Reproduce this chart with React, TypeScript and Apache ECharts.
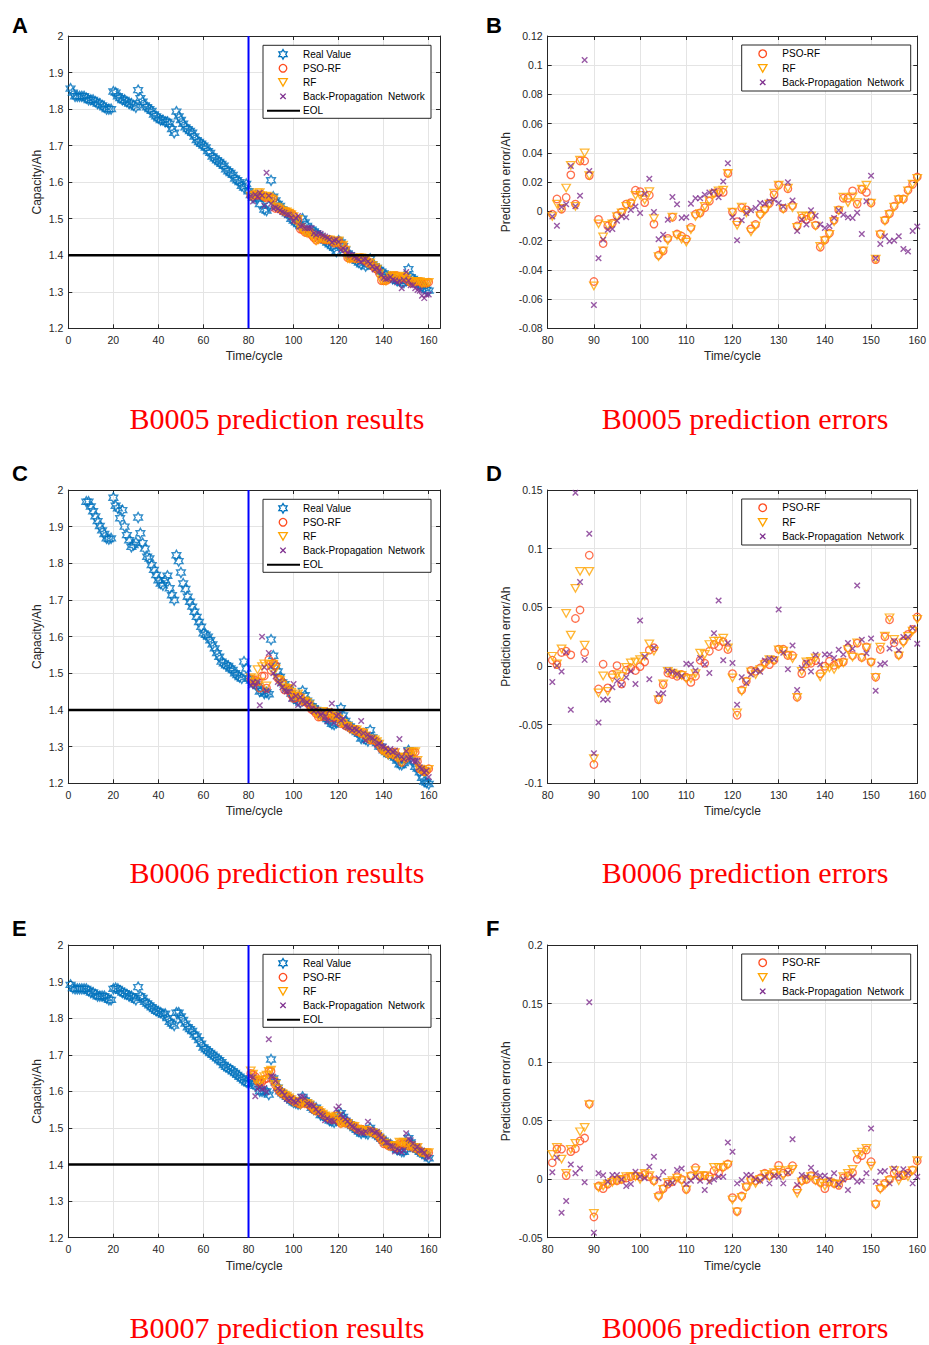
import React, { useEffect, useRef } from 'react';
import * as echarts from 'echarts';

// ---------------- DATA ----------------
// Measured capacity (Ah), cycles 1..160
const realB0005 = [
  1.856, 1.845, 1.835, 1.835, 1.835, 1.835, 1.835, 1.83, 1.825, 1.825,
  1.825, 1.82, 1.815, 1.815, 1.81, 1.805, 1.8, 1.8, 1.8, 1.848,
  1.845, 1.835, 1.83, 1.825, 1.825, 1.82, 1.815, 1.815, 1.81, 1.805,
  1.852, 1.83, 1.82, 1.81, 1.805, 1.8, 1.795, 1.785, 1.78, 1.775,
  1.77, 1.77, 1.765, 1.765, 1.76, 1.745, 1.735, 1.793, 1.78, 1.77,
  1.76, 1.75, 1.745, 1.74, 1.735, 1.725, 1.715, 1.71, 1.705, 1.7,
  1.695, 1.685, 1.68, 1.67, 1.665, 1.66, 1.655, 1.65, 1.645, 1.635,
  1.63, 1.625, 1.62, 1.61, 1.605, 1.6, 1.59, 1.585, 1.595, 1.575,
  1.565, 1.557, 1.563, 1.555, 1.54, 1.56, 1.525, 1.522, 1.535, 1.605,
  1.56, 1.55, 1.54, 1.535, 1.525, 1.52, 1.515, 1.51, 1.5, 1.495,
  1.49, 1.485, 1.48, 1.5, 1.49, 1.48, 1.465, 1.47, 1.465, 1.46,
  1.455, 1.45, 1.445, 1.44, 1.435, 1.43, 1.425, 1.42, 1.41, 1.44,
  1.435, 1.425, 1.415, 1.405, 1.4, 1.395, 1.39, 1.385, 1.38, 1.375,
  1.385, 1.37, 1.375, 1.39, 1.375, 1.37, 1.365, 1.36, 1.355, 1.35,
  1.345, 1.34, 1.34, 1.335, 1.335, 1.33, 1.33, 1.325, 1.325, 1.33,
  1.362, 1.34, 1.335, 1.33, 1.325, 1.32, 1.315, 1.31, 1.305, 1.303,
];

const realB0006 = [
  null, null, null, null, null, null, null, 1.968, 1.968, 1.955,
  1.942, 1.928, 1.915, 1.902, 1.89, 1.88, 1.868, 1.866, 1.868, 1.979,
  1.957, 1.95, 1.923, 1.945, 1.9, 1.877, 1.863, 1.845, 1.85, 1.857,
  1.925, 1.882, 1.855, 1.84, 1.818, 1.813, 1.795, 1.782, 1.768, 1.754,
  1.745, 1.74, 1.754, 1.766, 1.732, 1.713, 1.7, 1.822, 1.806, 1.775,
  1.745, 1.73, 1.709, 1.695, 1.682, 1.668, 1.654, 1.64, 1.627, 1.609,
  1.605, 1.6, 1.59, 1.579, 1.568, 1.555, 1.545, 1.532, 1.527, 1.522,
  1.52, 1.513, 1.509, 1.5, 1.495, 1.49, 1.486, 1.532, 1.513, 1.486,
  1.48, 1.475, 1.47, 1.465, 1.45, 1.452, 1.445, 1.448, 1.443, 1.592,
  1.548, 1.52, 1.505, 1.49, 1.475, 1.47, 1.46, 1.455, 1.445, 1.432,
  1.43, 1.425, 1.42, 1.452, 1.44, 1.425, 1.42, 1.41, 1.405, 1.4,
  1.395, 1.39, 1.385, 1.38, 1.375, 1.37, 1.362, 1.36, 1.365, 1.385,
  1.405, 1.385, 1.37, 1.36, 1.355, 1.35, 1.345, 1.34, 1.335, 1.322,
  1.325, 1.32, 1.315, 1.345, 1.325, 1.315, 1.31, 1.3, 1.3, 1.29,
  1.285, 1.28, 1.28, 1.275, 1.27, 1.262, 1.252, 1.25, 1.255, 1.265,
  1.29, 1.27, 1.26, 1.245, 1.24, 1.23, 1.215, 1.205, 1.202, 1.198,
];

const realB0007 = [
  1.891, 1.882, 1.88, 1.88, 1.88, 1.88, 1.88, 1.88, 1.875, 1.87,
  1.87, 1.865, 1.86, 1.86, 1.86, 1.86, 1.855, 1.85, 1.85, 1.88,
  1.882, 1.88, 1.875, 1.87, 1.868, 1.865, 1.86, 1.86, 1.855, 1.85,
  1.885, 1.86, 1.855, 1.845, 1.84, 1.835, 1.83, 1.825, 1.82, 1.818,
  1.815, 1.81, 1.812, 1.8, 1.79, 1.785, 1.78, 1.815, 1.815, 1.805,
  1.795, 1.785, 1.775, 1.77, 1.765, 1.755, 1.75, 1.74, 1.73, 1.72,
  1.715, 1.71, 1.705, 1.7, 1.695, 1.69, 1.685, 1.68, 1.672, 1.667,
  1.663, 1.66, 1.655, 1.65, 1.645, 1.64, 1.635, 1.63, 1.625, 1.622,
  1.635, 1.62, 1.615, 1.625, 1.6, 1.6, 1.6, 1.6, 1.591, 1.687,
  1.635, 1.625, 1.61, 1.6, 1.595, 1.59, 1.585, 1.58, 1.575, 1.57,
  1.568, 1.565, 1.566, 1.585, 1.575, 1.57, 1.565, 1.555, 1.55, 1.555,
  1.545, 1.535, 1.535, 1.53, 1.528, 1.52, 1.518, 1.515, 1.52, 1.535,
  1.54, 1.53, 1.52, 1.515, 1.51, 1.505, 1.5, 1.495, 1.49, 1.485,
  1.49, 1.485, 1.483, 1.5, 1.49, 1.485, 1.48, 1.475, 1.47, 1.465,
  1.46, 1.455, 1.455, 1.45, 1.445, 1.44, 1.44, 1.435, 1.435, 1.442,
  1.472, 1.46, 1.45, 1.445, 1.44, 1.435, 1.43, 1.428, 1.425, 1.417,
];

// Prediction errors (predicted - real, Ah), cycles 81..160
const psoErrB0005 = [
  -0.002, 0.0085, 0.0015, 0.0095, 0.025, 0.005, 0.0345, 0.0345, 0.0245, -0.048,
  -0.0055, -0.022, -0.01, -0.008, -0.003, -0.0005, 0.005, 0.006, 0.0145, 0.0135,
  0.006, 0.011, -0.0087, -0.03, -0.027, -0.0185, -0.004, -0.0155, -0.017, -0.019,
  -0.011, -0.002, -0.001, 0.0025, 0.007, 0.0125, 0.013, 0.013, 0.026, -0.0005,
  -0.007, 0.0025, 0.001, -0.012, -0.009, -0.002, 0.0015, 0.0055, 0.0115, 0.018,
  0.002, 0.0155, 0.004, -0.01, -0.0045, -0.0055, -0.0035, -0.0095, -0.0245, -0.0195,
  -0.015, -0.006, 0.001, 0.009, 0.009, 0.014, 0.005, 0.015, 0.013, 0.0057,
  -0.033, -0.0155, -0.006, -0.0015, 0.0035, 0.0085, 0.0085, 0.0145, 0.0185, 0.0235,
];
const rfErrB0005 = [
  -0.0035, 0.005, 0.002, 0.016, 0.0315, 0.0035, 0.035, 0.04, 0.0245, -0.051,
  -0.0085, -0.0175, -0.0095, -0.0085, -0.0035, -0.001, 0.0035, 0.005, 0.011, 0.011,
  0.0078, 0.0135, -0.005, -0.031, -0.027, -0.02, -0.004, -0.0165, -0.019, -0.021,
  -0.0125, -0.0035, -0.0015, 0.0035, 0.0073, 0.012, 0.014, 0.0145, 0.026, -0.0005,
  -0.0095, 0.003, -0.001, -0.014, -0.01, -0.003, 0.0005, 0.005, 0.0125, 0.018,
  0.0015, 0.016, 0.0025, -0.011, -0.003, -0.0035, -0.003, -0.01, -0.024, -0.02,
  -0.0157, -0.007, 0.0005, 0.0098, 0.006, 0.01, 0.006, 0.0153, 0.018, 0.0057,
  -0.0326, -0.016, -0.0066, -0.002, 0.003, 0.008, 0.008, 0.014, 0.0187, 0.0226,
];
const bpErrB0005 = [
  -0.0035, -0.0098, 0.003, 0.0048, 0.031, 0.0035, 0.0107, 0.1035, 0.0276, -0.064,
  -0.032, -0.0194, -0.0125, -0.012, -0.0064, -0.0034, -0.004, 0.001, 0.0034, -0.0011,
  0.012, 0.0224, -0.0005, -0.019, -0.016, -0.0057, 0.0098, 0.0048, -0.0046, -0.004,
  0.0052, 0.009, 0.009, 0.0114, 0.013, 0.0137, 0.0096, 0.0205, 0.033, -0.004,
  -0.0198, -0.006, -0.0011, 0.0007, 0.0023, 0.0057, 0.0052, 0.0068, 0.008, 0.0057,
  0.0034, 0.02, 0.0075, -0.0135, -0.0057, -0.0089, 0.0007, -0.003, -0.009, -0.0114,
  -0.01, -0.0046, 0.0007, -0.0023, -0.004, -0.0046, -0.001, -0.0155, 0.007, 0.0244,
  -0.032, -0.0224, -0.017, -0.0205, -0.02, -0.017, -0.0258, -0.0274, -0.0135, -0.0103,
];

const psoErrB0006 = [
  0.0049, 0.0012, 0.0115, 0.0126, 0.0095, 0.0405, 0.0477, 0.0115, 0.0944, -0.084,
  -0.0196, 0.0015, -0.0187, -0.0073, 0.0003, -0.0153, -0.0036, -0.0017, -0.0039, -0.0005,
  0.0035, 0.0135, 0.0155, -0.0287, -0.016, -0.006, -0.0073, -0.0088, -0.0073, -0.0096,
  -0.014, -0.0088, 0.0049, 0.0023, 0.0126, 0.0183, 0.0166, 0.0206, 0.014, -0.0065,
  -0.042, -0.0205, -0.013, -0.0039, -0.0045, -0.0017, 0.0029, 0.0012, 0.0049, 0.0143,
  0.0143, 0.0089, 0.0089, -0.0267, -0.0065, 0.0018, 0.0023, 0.0046, -0.0065, -0.0002,
  0.004, 0.0006, 0.0026, 0.0035, 0.0155, 0.0089, 0.0195, 0.0072, 0.0163, 0.0035,
  -0.0096, 0.014, 0.0249, 0.0394, 0.0198, 0.0095, 0.0212, 0.0269, 0.0312, 0.0417,
];
const rfErrB0006 = [
  0.0083, 0.0018, 0.0146, 0.0448, 0.0263, 0.0662, 0.0807, 0.0177, 0.0807, -0.079,
  -0.023, -0.0085, -0.0216, -0.0102, -0.0073, -0.0088, -0.0011, 0.0026, 0.0035, 0.0055,
  0.0083, 0.0189, 0.0126, -0.0287, -0.0153, -0.0045, -0.006, -0.0073, -0.008, -0.0108,
  -0.0108, -0.0065, 0.0109, 0.0098, 0.0183, 0.0212, 0.0212, 0.0237, 0.0155, -0.0102,
  -0.04, -0.0216, -0.0136, -0.005, -0.0073, -0.003, 0.0012, 0.0055, 0.0046, 0.0138,
  0.0126, 0.0092, 0.0063, -0.0267, -0.0045, 0.0035, 0.004, 0.0069, -0.0093, -0.0039,
  -0.0017, -0.003, 0.0012, 0.0026, 0.014, 0.0075, 0.0198, 0.0069, 0.0155, 0.0026,
  -0.0096, 0.016, 0.0255, 0.0411, 0.0226, 0.0086, 0.0195, 0.0252, 0.0298, 0.0397,
];
const bpErrB0006 = [
  -0.0136, 0.0003, -0.0048, 0.0118, -0.0373, 0.1477, 0.0716, 0.0052, 0.1127, -0.0743,
  -0.0481, -0.0285, -0.0287, -0.0182, -0.0127, -0.0159, -0.0096, -0.0045, -0.0153, 0.0388,
  0.008, -0.0114, 0.0155, -0.0239, -0.0233, -0.0039, -0.005, -0.0068, -0.0085, 0.0018,
  0.0012, -0.0039, 0.0069, 0.0012, -0.006, 0.028, 0.0559, 0.0049, 0.0195, 0.0026,
  -0.033, -0.0096, -0.0145, -0.0073, -0.0039, -0.005, 0.0046, 0.0063, 0.0058, 0.0482,
  0.0112, -0.0028, 0.0175, -0.0205, -0.0017, 0.0029, -0.0048, 0.0095, 0.0012, 0.0098,
  0.0098, 0.0069, 0.0138, 0.0098, 0.0195, 0.0146, 0.0687, 0.0223, 0.0109, 0.0234,
  -0.0211, 0.0012, 0.0023, 0.0149, 0.0212, 0.0135, 0.0246, 0.0246, 0.0323, 0.0189,
];

const psoErrB0007 = [
  0.014, 0.0257, 0.0257, 0.003, 0.0235, 0.026, 0.0326, 0.0351, 0.0642, -0.0323,
  -0.0059, -0.0081, -0.0042, -0.0013, -0.0013, -0.0002, 0.001, 0.0021, 0.003, 0.0021,
  0.0041, 0.0021, -0.0013, -0.0141, -0.0081, -0.0042, -0.0022, 0.0021, -0.0002, -0.0087,
  0.003, 0.0098, 0.0021, 0.003, 0.0021, 0.0072, 0.005, 0.0104, 0.0129, -0.0158,
  -0.0275, -0.0144, -0.0064, -0.0002, -0.0013, 0.001, 0.005, 0.003, 0.005, 0.0118,
  0.005, 0.0061, 0.0115, -0.0087, -0.0013, -0.0002, 0.003, -0.0007, -0.0027, -0.0081,
  -0.0022, -0.0036, -0.0053, 0.001, 0.003, 0.0055, 0.0169, 0.0201, 0.0249, 0.0149,
  -0.0212, -0.0075, -0.0036, -0.0002, 0.005, 0.0021, 0.003, 0.005, 0.0078, 0.0155,
];
const rfErrB0007 = [
  0.0212, 0.0271, 0.0172, 0.005, 0.0255, 0.0306, 0.0405, 0.0442, 0.0636, -0.0292,
  -0.0072, -0.0059, -0.0042, -0.0027, -0.0013, -0.0002, 0.0021, 0.0021, 0.0021, -0.0002,
  0.005, 0.003, -0.0022, -0.0155, -0.0087, -0.0027, -0.0013, 0.001, -0.0013, -0.0092,
  0.0021, 0.0072, 0.003, 0.003, -0.0002, 0.0101, 0.0101, 0.0098, 0.0121, -0.0178,
  -0.028, -0.0155, -0.0072, -0.0022, -0.0036, -0.0002, 0.0041, 0.0021, 0.0055, 0.0078,
  0.003, 0.0072, 0.0084, -0.0121, -0.0022, -0.0002, 0.0021, -0.0013, -0.0036, -0.0059,
  -0.003, -0.0042, -0.0042, 0.0021, 0.005, 0.0084, 0.0212, 0.0232, 0.0263, 0.0112,
  -0.022, -0.0087, -0.005, -0.0013, 0.0072, -0.0013, 0.0035, 0.0021, 0.0072, 0.0158,
];
const bpErrB0007 = [
  0.0058, 0.0183, -0.0286, -0.0187, 0.0126, 0.005, 0.0092, -0.0027, 0.1512, -0.0457,
  0.005, 0.0033, -0.0022, 0.0035, 0.0035, -0.0002, -0.0059, -0.0042, 0.0064, 0.0021,
  0.0007, 0.0106, 0.0192, 0.0007, 0.0061, -0.0042, -0.003, 0.0078, 0.0092, -0.0042,
  -0.0013, 0.0021, -0.0013, -0.0092, -0.0022, -0.0002, 0.0021, 0.0021, 0.0313, 0.0234,
  -0.0036, -0.0007, 0.0035, 0.0035, -0.0002, -0.0013, 0.0021, -0.0036, 0.003, 0.0021,
  -0.0036, 0.0055, 0.034, -0.005, 0.0035, 0.0021, 0.0098, 0.005, 0.003, 0.003,
  -0.0002, 0.005, -0.0045, -0.0002, -0.0092, 0.0021, -0.0022, -0.0013, 0.005, 0.0433,
  -0.0022, 0.0064, 0.007, -0.0036, 0.0092, 0.003, 0.0084, 0.005, -0.0036, 0.0021,
];

const FIRST_PRED_CYCLE = 81;
const START_CYCLE = 80;
const EOL_CAPACITY = 1.4;

const seriesNames = ['Real Value', 'PSO-RF', 'RF', 'Back-Propagation  Network', 'EOL'];
const capacityTicks = { min: 1.2, max: 2, interval: 0.1 };
const cycleTicks = { min: 0, max: 165, interval: 20 };
const errCycleTicks = { min: 80, max: 160, interval: 10 };
const errTicks = [
  { min: -0.08, max: 0.12, interval: 0.02 },
  { min: -0.1, max: 0.15, interval: 0.05 },
  { min: -0.05, max: 0.2, interval: 0.05 },
];
const captionsLeft = ['B0005 prediction results', 'B0006 prediction results', 'B0007 prediction results'];
const captionsRight = ['B0005 prediction errors', 'B0006 prediction errors', 'B0006 prediction errors'];
const panelLetters = [['A', 'B'], ['C', 'D'], ['E', 'F']];

// ---------------- STYLE / LAYOUT ----------------
const FONT = '"Liberation Sans", Arial, Helvetica, sans-serif';
const SERIF = '"Liberation Serif", "Times New Roman", serif';
const AX = '#262626';
const GRIDC = '#E4E4E4';
const C_REAL = '#0072BD';
const C_PSO = '#FF4B1F';
const C_RF = '#FFA400';
const C_BP = '#7E2F8E';

const HEX_PATH = 'path://M10,0 L12.89,5 L18.66,5 L15.77,10 L18.66,15 L12.89,15 L10,20 L7.11,15 L1.34,15 L4.23,10 L1.34,5 L7.11,5 Z';
const X_PATH = 'path://M0,0 L10,10 M10,0 L0,10';

const LEFT_X = 68.3, LEFT_W = 371.7, RIGHT_X = 547.7, RIGHT_W = 372.3;
const ROWS = [
  { top: 36, h: 292.3, cap: 418, letterY: 25 },
  { top: 490, h: 293.3, cap: 872, letterY: 473 },
  { top: 945, h: 292.7, cap: 1327, letterY: 928 },
];

const rows = [
  { real: realB0005, pso: psoErrB0005, rf: rfErrB0005, bp: bpErrB0005 },
  { real: realB0006, pso: psoErrB0006, rf: rfErrB0006, bp: bpErrB0006 },
  { real: realB0007, pso: psoErrB0007, rf: rfErrB0007, bp: bpErrB0007 },
];

function hexPoints(cx: number, cy: number, R: number) {
  const r = R / Math.sqrt(3);
  const pts: number[][] = [];
  for (let k = 0; k < 12; k++) {
    const a = Math.PI / 2 + (k * Math.PI) / 6;
    const rad = k % 2 === 0 ? R : r;
    pts.push([cx + rad * Math.cos(a), cy - rad * Math.sin(a)]);
  }
  return pts;
}

function txt(x: number, y: number, text: string) {
  return {
    type: 'text', x, y, z: 101,
    style: { text, fill: '#000', fontSize: 10, fontFamily: FONT, align: 'left', verticalAlign: 'middle' },
  };
}
function circ(cx: number, cy: number) {
  return { type: 'circle', z: 101, shape: { cx, cy, r: 3.8 }, style: { fill: 'none', stroke: C_PSO, lineWidth: 1.3 } };
}
function tri(cx: number, cy: number) {
  return {
    type: 'polygon', z: 101,
    shape: { points: [[cx - 4.3, cy - 3.6], [cx + 4.3, cy - 3.6], [cx, cy + 3.8]] },
    style: { fill: 'none', stroke: C_RF, lineWidth: 1.3 },
  };
}
function cross(cx: number, cy: number) {
  const d = 2.7;
  return [
    { type: 'line', z: 101, shape: { x1: cx - d, y1: cy - d, x2: cx + d, y2: cy + d }, style: { stroke: C_BP, lineWidth: 1.3 } },
    { type: 'line', z: 101, shape: { x1: cx + d, y1: cy - d, x2: cx - d, y2: cy + d }, style: { stroke: C_BP, lineWidth: 1.3 } },
  ];
}

function leftLegend(top: number) {
  const x0 = 263, w = 168, h = 73, cx = 283, tx = 303;
  const ys = [9, 23, 37, 51, 65.5].map((d) => top + d);
  return [
    { type: 'rect', z: 100, shape: { x: x0, y: top, width: w, height: h }, style: { fill: '#fff', stroke: AX, lineWidth: 1 } },
    { type: 'polygon', z: 101, shape: { points: hexPoints(cx, ys[0], 4.8) }, style: { fill: 'none', stroke: C_REAL, lineWidth: 1.3 } },
    circ(cx, ys[1]),
    tri(cx, ys[2]),
    ...cross(cx, ys[3]),
    { type: 'line', z: 101, shape: { x1: 267, y1: ys[4], x2: 300, y2: ys[4] }, style: { stroke: '#000', lineWidth: 2 } },
    ...seriesNames.map((n, i) => txt(tx, ys[i], n)),
  ];
}
function rightLegend(top: number) {
  const x0 = 741.7, w = 169, h = 46, cx = 762.7, tx = 782.3;
  const ys = [8.7, 23.3, 37.3].map((d) => top + d);
  return [
    { type: 'rect', z: 100, shape: { x: x0, y: top, width: w, height: h }, style: { fill: '#fff', stroke: AX, lineWidth: 1 } },
    circ(cx, ys[0]),
    tri(cx, ys[1]),
    ...cross(cx, ys[2]),
    ...seriesNames.slice(1, 4).map((n, i) => txt(tx, ys[i], n)),
  ];
}

function axisPair(kind: 'x' | 'y', gridIndex: number, t: any, name: string, nameGap: number, labelMargin: number, maxLabel: number) {
  const main = {
    gridIndex, type: 'value', min: t.min, max: t.max, interval: t.interval,
    position: kind === 'x' ? 'bottom' : 'left',
    axisLine: { show: true, onZero: false, lineStyle: { color: AX, width: 1 } },
    axisTick: { show: true, inside: true, length: 4, lineStyle: { color: AX } },
    axisLabel: {
      color: AX, fontSize: 10.5, fontFamily: FONT, margin: labelMargin,
      formatter: (v: number) => (v > maxLabel + 1e-9 ? '' : String(+v.toFixed(4))),
    },
    splitLine: { show: true, lineStyle: { color: GRIDC, width: 1 } },
    name, nameLocation: 'middle', nameGap,
    nameTextStyle: { color: AX, fontSize: 12, fontFamily: FONT },
  };
  const other = {
    gridIndex, type: 'value', min: t.min, max: t.max, interval: t.interval,
    position: kind === 'x' ? 'top' : 'right',
    axisLine: { show: true, onZero: false, lineStyle: { color: AX, width: 1 } },
    axisTick: { show: true, inside: true, length: 4, lineStyle: { color: AX } },
    axisLabel: { show: false },
    splitLine: { show: false },
  };
  return [main, other];
}

function scatter(name: string, data: any[], axis: number, kind: string) {
  const base: any = {
    name, type: 'scatter', data, xAxisIndex: axis, yAxisIndex: axis,
    silent: true, clip: false, animation: false,
  };
  if (kind === 'real') {
    Object.assign(base, { symbol: HEX_PATH, symbolSize: 10, symbolKeepAspect: true, z: 2,
      itemStyle: { color: 'rgba(0,0,0,0)', borderColor: C_REAL, borderWidth: 1.4 } });
  } else if (kind === 'pso') {
    Object.assign(base, { symbol: 'circle', symbolSize: 7.5, z: 3,
      itemStyle: { color: 'rgba(0,0,0,0)', borderColor: C_PSO, borderWidth: 1.3 } });
  } else if (kind === 'rf') {
    Object.assign(base, { symbol: 'triangle', symbolRotate: 180, symbolSize: [8.5, 7.5], z: 4,
      itemStyle: { color: 'rgba(0,0,0,0)', borderColor: C_RF, borderWidth: 1.3 } });
  } else {
    Object.assign(base, { symbol: X_PATH, symbolSize: 5.5, z: 5,
      itemStyle: { color: 'rgba(0,0,0,0)', borderColor: C_BP, borderWidth: 1.4 } });
  }
  return base;
}

function buildOption() {
  const grid: any[] = [];
  const xAxis: any[] = [];
  const yAxis: any[] = [];
  const series: any[] = [];
  const elements: any[] = [];

  rows.forEach((r, ri) => {
    const L = ROWS[ri];
    const gL = ri * 2, gR = ri * 2 + 1;
    grid.push({ left: LEFT_X, top: L.top, width: LEFT_W, height: L.h });
    grid.push({ left: RIGHT_X, top: L.top, width: RIGHT_W, height: L.h });

    xAxis.push(...axisPair('x', gL, cycleTicks, 'Time/cycle', 22, 6, 160));
    yAxis.push(...axisPair('y', gL, capacityTicks, 'Capacity/Ah', 25, 5, 99));
    xAxis.push(...axisPair('x', gR, errCycleTicks, 'Time/cycle', 22, 6, 160));
    yAxis.push(...axisPair('y', gR, errTicks[ri], 'Prediction error/Ah', 36, 5, 99));

    const aL = gL * 2, aR = gR * 2;
    const realData = r.real.map((v, i) => [i + 1, v]).filter((d) => d[1] != null);
    const pred = (errs: number[]) => errs.map((e, i) => [FIRST_PRED_CYCLE + i, +((r.real[FIRST_PRED_CYCLE - 1 + i] as number) + e).toFixed(4)]);
    const errData = (errs: number[]) => errs.map((e, i) => [FIRST_PRED_CYCLE + i, e]);

    series.push(scatter(seriesNames[0], realData, aL, 'real'));
    series.push(scatter(seriesNames[1], pred(r.pso), aL, 'pso'));
    series.push(scatter(seriesNames[2], pred(r.rf), aL, 'rf'));
    series.push(scatter(seriesNames[3], pred(r.bp), aL, 'bp'));
    series.push({
      name: 'EOL', type: 'line', xAxisIndex: aL, yAxisIndex: aL, silent: true, z: 6,
      symbol: 'none', data: [[cycleTicks.min, EOL_CAPACITY], [cycleTicks.max, EOL_CAPACITY]],
      lineStyle: { color: '#000', width: 2.4 },
    });
    series.push({
      name: 'Start', type: 'line', xAxisIndex: aL, yAxisIndex: aL, silent: true, z: 7,
      symbol: 'none', data: [[START_CYCLE, capacityTicks.min], [START_CYCLE, capacityTicks.max]],
      lineStyle: { color: '#0000FF', width: 2 },
    });

    series.push(scatter(seriesNames[1], errData(r.pso), aR, 'pso'));
    series.push(scatter(seriesNames[2], errData(r.rf), aR, 'rf'));
    series.push(scatter(seriesNames[3], errData(r.bp), aR, 'bp'));

    elements.push(...leftLegend(L.top + 9.3));
    elements.push(...rightLegend(L.top + 9));

    elements.push({
      type: 'text', x: 12, y: L.letterY, z: 101,
      style: { text: panelLetters[ri][0], fill: '#000', fontSize: 22, fontWeight: 'bold', fontFamily: FONT, align: 'left', verticalAlign: 'middle' },
    });
    elements.push({
      type: 'text', x: 486, y: L.letterY, z: 101,
      style: { text: panelLetters[ri][1], fill: '#000', fontSize: 22, fontWeight: 'bold', fontFamily: FONT, align: 'left', verticalAlign: 'middle' },
    });
    elements.push({
      type: 'text', x: 277, y: L.cap, z: 101,
      style: { text: captionsLeft[ri], fill: '#FF0000', fontSize: 30, fontFamily: SERIF, align: 'center', verticalAlign: 'middle' },
    });
    elements.push({
      type: 'text', x: 745, y: L.cap, z: 101,
      style: { text: captionsRight[ri], fill: '#FF0000', fontSize: 30, fontFamily: SERIF, align: 'center', verticalAlign: 'middle' },
    });
  });

  return {
    animation: false,
    backgroundColor: '#ffffff',
    textStyle: { fontFamily: FONT },
    grid, xAxis, yAxis, series,
    graphic: { elements },
  };
}

export default function App() {
  const ref = useRef<HTMLDivElement>(null);
  useEffect(() => {
    document.body.style.margin = '0';
    if (!ref.current) return;
    const chart = echarts.init(ref.current, undefined, { renderer: 'svg' });
    chart.setOption(buildOption() as any);
    return () => chart.dispose();
  }, []);
  return <div ref={ref} style={{ width: 929, height: 1345, background: '#fff' }} />;
}
